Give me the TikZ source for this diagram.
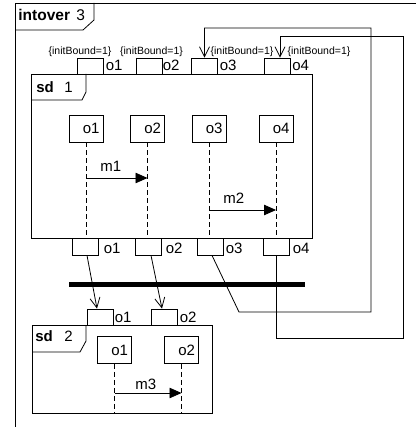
\documentclass[tikz,border=0pt]{standalone}
\usepackage{fontspec}
\setmainfont{Liberation Sans}
\usetikzlibrary{arrows.meta,calc}
\begin{document}
\begin{tikzpicture}[x=1pt,y=-1pt,line width=0.8pt,
  port/.style={draw,minimum width=26pt,minimum height=16pt,inner sep=0pt},
  lifebox/.style={draw,minimum width=34pt,minimum height=27pt,inner xsep=3.5pt,inner ysep=0pt,text width=27pt,align=right,font=\fontsize{15}{17}\selectfont},
  lbl/.style={font=\fontsize{15}{17}\selectfont,inner sep=0pt,anchor=base west},
  ttl/.style={font=\fontsize{15.5}{17}\selectfont,inner sep=0pt,anchor=base west},
  ib/.style={font=\fontsize{10.5}{12}\selectfont,inner sep=0pt,anchor=base},
  life/.style={dash pattern=on 5pt off 3pt},
  msg/.style={-{Triangle[length=12pt,width=10.5pt]}},
  flow/.style={-{Straight Barb[length=10pt,width=10pt]}}]
\useasboundingbox (0,0) rectangle (416,427);
% outer frame
\draw (416,3) -- (15,3) -- (15,427);
\draw (15,30) -- (83,30) -- (94,20) -- (94,3);
\node[ttl] (t0) at (18,20.5) {\textbf{intover}};
\node[ttl] (t0n) at (76,20.5) {3};
% sd 1 frame
\draw (31,74) rectangle (312,238);
\draw (31,100) -- (82,100) -- (86,92) -- (86,74);
\node[lbl] (sdA) at (36,93) {\textbf{sd}};
\node[lbl] (sdAn) at (64,93) {1};
% top ports
\node[port] (t1) at (90,66) {};
\node[port] (t2) at (149.5,66) {};
\node[port] (t3) at (204.5,66) {};
\node[port] (t4) at (277,66) {};
\node[lbl] at (105.5,70.5) {o1};
\node[lbl] at (162.5,70.5) {o2};
\node[lbl] at (219.5,70.5) {o3};
\node[lbl] at (292,70.5) {o4};
\node[ib] at (80,55) {\{initBound=1\}};
\node[ib] at (151.5,55) {\{initBound=1\}};
\node[ib] at (242,55) {\{initBound=1\}};
\node[ib] at (319,55) {\{initBound=1\}};
% lifelines sd1
\node[lifebox] (L1) at (86,128.5) {o1};
\node[lifebox] (L2) at (147.5,128.5) {o2};
\node[lifebox] (L3) at (209,128.5) {o3};
\node[lifebox] (L4) at (276,128.5) {o4};
\coordinate (f1b) at (0,238);
\foreach \n in {L1,L2,L3,L4} \draw[life] (\n.south) -- (\n.south |- f1b);
\coordinate (ym1) at (0,178);
\coordinate (ym2) at (0,210);
\draw[msg] (L1.south |- ym1) -- (L2.south |- ym1);
\draw[msg] (L3.south |- ym2) -- (L4.south |- ym2);
\node[lbl] at (100,172) {m1};
\node[lbl] at (223,204) {m2};
% bottom ports
\node[port,minimum height=17pt] (b1) at (85,246.5) {};
\node[port,minimum height=17pt] (b2) at (148,246.5) {};
\node[port,minimum height=17pt] (b3) at (210,246.5) {};
\node[port,minimum height=17pt] (b4) at (276,246.5) {};
\node[lbl] at (103.5,253) {o1};
\node[lbl] at (165.5,253) {o2};
\node[lbl] at (225.5,253) {o3};
\node[lbl] at (292.5,253) {o4};
% fork bar
\draw[line width=5pt] (69,284) -- (305,284);
% sd 2 frame
\draw (32,325) rectangle (212,413);
\draw (32,352) -- (80,352) -- (86,341) -- (86,325);
\node[lbl] (sdB) at (35,341) {\textbf{sd}};
\node[lbl] (sdBn) at (64,341) {2};
\node[port] (s1) at (100,317) {};
\node[port] (s2) at (164.5,317) {};
\node[lbl] at (114.5,322) {o1};
\node[lbl] at (179.5,322) {o2};
\node[lifebox] (M1) at (114.5,350) {o1};
\node[lifebox] (M2) at (181.5,350) {o2};
\coordinate (f2b) at (0,413);
\foreach \n in {M1,M2} \draw[life] (\n.south) -- (\n.south |- f2b);
\coordinate (ym3) at (0,393);
\draw[msg] (M1.south |- ym3) -- (M2.south |- ym3);
\node[lbl] at (135,389) {m3};
% connectors
\draw[flow] ([xshift=2pt]b1.south) -- ([xshift=-3pt]s1.north);
\draw[flow] ([xshift=3pt]b2.south) -- ([xshift=-2.5pt]s2.north);
\coordinate (c3a) at (239,312);
\coordinate (c3b) at (371,312);
\coordinate (c3c) at (371,28);
\draw[flow] ([xshift=2pt]b3.south) -- (c3a) -- (c3b) -- (c3c) -- (t3.north |- c3c) -- (t3.north);
\coordinate (c4a) at (403.5,338);
\coordinate (c4b) at (403.5,36);
\draw[flow] (b4.south) -- (b4.south |- c4a) -- (c4a) -- (c4b) -- ([xshift=3pt]t4.north |- c4b) -- ([xshift=3pt]t4.north);
\end{tikzpicture}
\end{document}
